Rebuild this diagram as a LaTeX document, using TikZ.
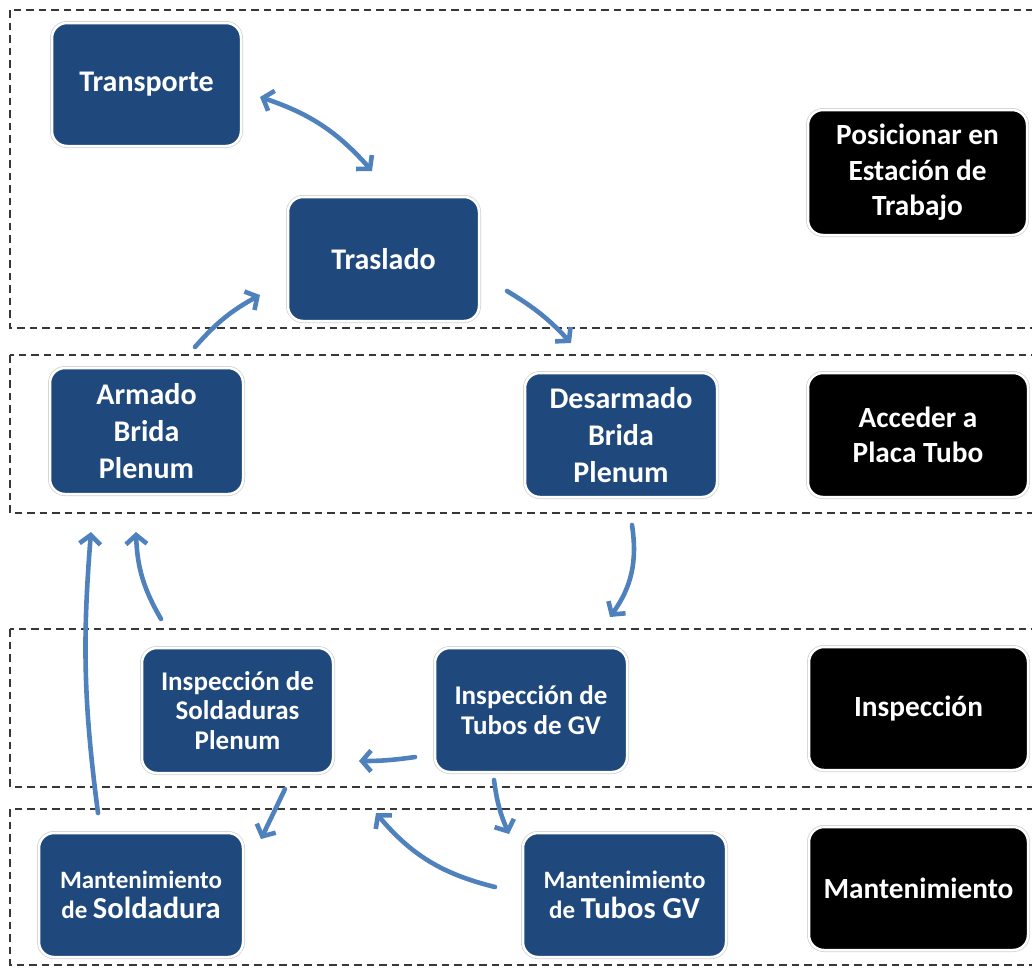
\documentclass[tikz,border=0pt]{standalone}
\usepackage{fontspec}
\setmainfont{Carlito}
\usetikzlibrary{arrows.meta}
\definecolor{boxblue}{RGB}{31,73,125}
\definecolor{flowblue}{RGB}{79,129,189}
\definecolor{framegray}{RGB}{55,55,55}
\begin{document}
\begin{tikzpicture}[x=1pt,y=-1pt,
  card/.style={rounded corners=15pt, text=white, align=center,
    preaction={draw=gray!35, line width=4pt},
    draw=white, line width=2.5pt, inner sep=0pt,
    font=\bfseries\fontsize{30}{37}\selectfont},
  bluecard/.style={card, fill=boxblue},
  blackcard/.style={card, fill=black, font=\bfseries\fontsize{29.3}{35.5}\selectfont},
  inspecttext/.style={font=\bfseries\fontsize{27}{29.5}\selectfont},
  mainttext/.style={font=\bfseries\fontsize{25}{30.5}\selectfont},
  lane/.style={draw=framegray, line width=1.6pt, dash pattern=on 7.5pt off 5pt},
  flow/.style={draw=flowblue, line width=4.6pt, line cap=round,
    -{Straight Barb[length=9pt,width=21pt]}},
  flowboth/.style={flow, {Straight Barb[length=9pt,width=21pt]}-{Straight Barb[length=9pt,width=21pt]}}
]
\useasboundingbox (0,0) rectangle (1032,967);
\clip (0,0) rectangle (1032,967);

% swim lanes
\draw[lane] (10,10) rectangle (1060,328);
\draw[lane] (10,355) rectangle (1060,513);
\draw[lane] (10,629) rectangle (1060,787);
\draw[lane] (10,809) rectangle (1060,965);

% process steps
\node[bluecard, minimum width=189pt, minimum height=123pt] (transporte) at (146.5,84.5) {Transporte};
\node[bluecard, minimum width=191pt, minimum height=124pt] (traslado) at (383.5,259) {Traslado};
\node[bluecard, minimum width=193pt, minimum height=126pt] (armado) at (146.5,431) {Armado\\Brida\\Plenum};
\node[bluecard, minimum width=192pt, minimum height=124pt] (desarmado) at (621,435) {Desarmado\\Brida\\Plenum};
\node[bluecard, inspecttext, minimum width=191pt, minimum height=125pt] (inspsold) at (237.5,710.5) {Inspección de\\Soldaduras\\Plenum};
\node[bluecard, inspecttext, minimum width=192pt, minimum height=124pt] (insptubos) at (531,710) {Inspección de\\Tubos de GV};
\node[bluecard, mainttext, minimum width=204pt, minimum height=124pt] (mantsold) at (141,895) {Mantenimiento\\de {\fontsize{30.5}{30.5}\selectfont Soldadura}};
\node[bluecard, mainttext, minimum width=203pt, minimum height=124pt] (manttubos) at (624.5,895) {Mantenimiento\\de {\fontsize{30.5}{30.5}\selectfont Tubos GV}};

% phase labels
\node[blackcard, minimum width=219pt, minimum height=125pt] (posicionar) at (917.5,172.5) {Posicionar en\\Estación de\\Trabajo};
\node[blackcard, minimum width=220pt, minimum height=124pt] (acceder) at (918,435) {Acceder a\\Placa Tubo};
\node[blackcard, minimum width=219pt, minimum height=123pt] (inspeccion) at (918.5,708.5) {Inspección};
\node[blackcard, minimum width=219pt, minimum height=123pt] (mantenimiento) at (918.5,888.5) {Mantenimiento};

% connector end points
\coordinate (a1) at (260,97);  \coordinate (b1) at (372,171);
\coordinate (a2) at (195,347); \coordinate (b2) at (260,295);
\coordinate (a3) at (507,291); \coordinate (b3) at (571,343);
\coordinate (a4) at (632,525); \coordinate (b4) at (610,617);
\coordinate (a5) at (415,757); \coordinate (b5) at (359,761);
\coordinate (a6) at (494,780); \coordinate (b6) at (509,834);
\coordinate (a7) at (495,887); \coordinate (b7) at (376,813);
\coordinate (a8) at (285,789); \coordinate (b8) at (261,839);
\coordinate (a9) at (161,619); \coordinate (b9) at (136,532);
\coordinate (a10) at (98,813); \coordinate (b10) at (91,532);

% flow connectors
\draw[flowboth] (a1) to[bend left=15] (b1);
\draw[flow] (a2) to[bend left=10] (b2);
\draw[flow] (a3) to[bend left=8] (b3);
\draw[flow] (a4) to[bend left=22] (b4);
\draw[flow] (a5) to[bend left=4] (b5);
\draw[flow] (a6) to[bend right=8] (b6);
\draw[flow] (a7) to[bend left=18] (b7);
\draw[flow] (a8) to (b8);
\draw[flow] (a9) to[bend left=14] (b9);
\draw[flow] (a10) to[bend left=6] (b10);
\end{tikzpicture}
\end{document}
